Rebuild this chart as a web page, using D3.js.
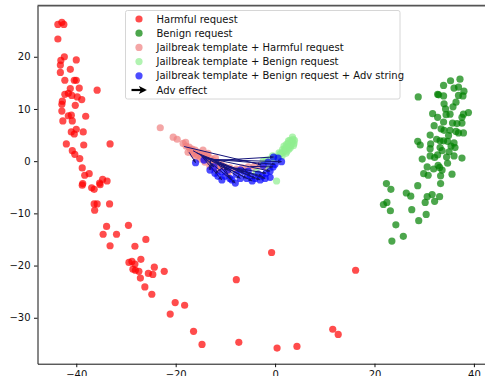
<!DOCTYPE html>
<html>
<head>
<meta charset="utf-8">
<script src="https://cdn.jsdelivr.net/npm/d3@7"></script>
<style>
  body { margin: 0; background: #fff; }
  svg { display: block; font-family: 'DejaVu Sans', sans-serif; }
</style>
</head>
<body>
<svg id="chart" width="485" height="376"></svg>
<script>
// t-SNE style projection, [x, y] pairs
const harmful = [
  [-43.7,26.2],[-42.9,26.6],[-42.5,26.2],[-43.7,23.4],[-42.4,20.0],[-43.1,19.3],[-43.2,18.4],[-43.2,17.0],
  [-41.2,17.6],[-40.0,19.4],[-42.3,15.5],[-40.4,15.5],[-40.0,15.5],[-39.4,14.0],[-35.8,13.6],[-41.2,13.9],
  [-41.6,13.0],[-42.3,12.8],[-40.9,12.6],[-39.8,12.3],[-38.9,11.8],[-40.2,10.7],[-42.8,11.5],[-42.9,10.9],
  [-42.9,9.6],[-42.7,7.7],[-41.0,8.8],[-41.6,8.7],[-40.8,7.7],[-38.1,8.6],[-40.0,6.1],[-41.0,5.6],
  [-40.4,5.2],[-38.6,5.6],[-42.0,3.3],[-38.5,3.1],[-33.2,3.3],[-40.8,2.0],[-40.3,1.3],[-39.3,0.5],
  [-38.8,-1.3],[-38.3,-2.7],[-37.4,-2.4],[-38.8,-4.6],[-38.7,-4.3],[-36.9,-5.1],[-36.4,-5.4],[-35.3,-4.2],
  [-35.2,-4.5],[-34.7,-3.5],[-33.8,-3.8],[-36.4,-8.2],[-35.8,-8.2],[-33.3,-8.2],[-36.3,-9.4],[-33.9,-12.5],
  [-29.5,-12.3],[-34.6,-14.0],[-31.9,-14.0],[-33.2,-16.2],[-28.2,-16.3],[-26.0,-15.0],[-29.4,-19.4],[-28.8,-19.2],
  [-28.2,-19.7],[-28.6,-20.7],[-28.1,-20.9],[-27.4,-21.1],[-27.0,-18.8],[-24.3,-20.3],[-25.5,-21.5],[-24.6,-21.7],
  [-27.1,-22.4],[-26.2,-24.1],[-24.8,-25.5],[-22.3,-21.1],[-20.1,-27.1],[-21.1,-29.3],[-18.2,-27.6],[-16.4,-32.6],
  [-14.7,-35.1],[-7.8,-22.7],[-7.3,-34.7],[-0.7,-17.5],[0.4,-35.8],[4.4,-35.5],[11.6,-32.2],[12.7,-33.2],
  [16.2,-20.9]
]

const benign = [
  [35.3,15.4],[37.2,15.7],[33.9,14.5],[36.0,14.0],[36.9,14.2],[38.0,13.4],[32.7,12.8],[32.9,12.7],
  [33.9,12.5],[36.9,12.6],[37.8,12.5],[36.4,11.3],[28.8,12.3],[34.3,10.0],[31.7,9.1],[32.7,8.4],
  [35.2,9.0],[34.4,8.9],[38.9,9.3],[37.9,9.0],[37.6,8.4],[33.9,7.5],[35.7,7.3],[36.6,7.2],
  [37.6,7.3],[33.4,6.2],[34.0,5.9],[35.2,5.9],[36.4,5.7],[36.9,5.4],[37.9,5.4],[34.9,4.9],
  [31.2,5.0],[28.7,3.8],[29.2,3.1],[31.3,3.3],[32.5,4.2],[33.2,3.9],[33.9,3.9],[34.7,3.8],
  [36.0,3.5],[35.4,2.9],[33.2,2.6],[31.2,2.4],[33.6,2.0],[36.2,2.6],[32.7,1.2],[32.1,0.7],
  [31.2,1.0],[34.5,0.8],[36.0,1.0],[37.6,0.6],[29.6,0.4],[34.7,-0.4],[30.6,-1.1],[32.8,-0.8],
  [33.1,-1.2],[31.9,-1.5],[33.6,-1.7],[35.6,-2.5],[29.9,-2.4],[30.8,-2.7],[33.3,-2.8],[33.3,-4.3],
  [28.7,-4.7],[22.4,-4.3],[23.3,-5.4],[26.4,-6.1],[27.3,-6.7],[30.6,-6.8],[31.6,-6.4],[33.1,-6.8],
  [30.2,-7.9],[32.1,-7.7],[22.5,-7.9],[21.8,-8.3],[23.2,-9.5],[27.5,-9.3],[30.4,-10.2],[28.9,-11.4],
  [24.3,-12.2],[25.8,-14.4],[23.5,-15.3],[34.0,11.0],[35.8,10.4],[32.0,6.8],[35.0,1.8]
]

const jbHarmful = [
  [-23.1,6.4],[-19.7,4.2],[-18.5,3.4],[-17.9,2.9],[-17.3,2.7],[-16.7,2.3],[-16.1,2.1],[-15.5,1.7],
  [-14.9,1.5],[-14.3,1.1],[-13.7,1.0],[-13.1,0.6],[-12.5,0.2],[-11.9,-0.2],[-11.3,-0.4],[-10.7,-0.8],
  [-15.9,1.0],[-15.1,0.4],[-14.1,-0.2],[-13.1,-1.0],[-12.3,-1.3],[-10.1,-1.1],[-9.1,-1.3],[-7.8,-1.5],
  [-6.6,-1.3],[-5.4,-1.1],[-4.2,-1.0],[-3.0,-0.8],[-1.8,-1.1],[-14.5,2.1],[-13.5,1.5],[-17.5,1.7],
  [-11.5,-1.7],[-9.5,-2.3],[-16.5,1.4],[-12.0,0.6],[-17.0,2.2],[-16.3,1.6],[-15.6,1.2],[-14.8,0.8],
  [-13.8,0.3],[-12.8,-0.5],[-11.0,-1.0],[-18.0,3.6],[-20.5,4.6]
]

const jbBenign = [
  [3.0,4.0],[3.4,3.6],[2.6,3.4],[3.2,3.1],[2.4,2.7],[2.8,2.3],[2.0,2.1],[1.6,1.7],
  [2.2,1.5],[1.0,1.3],[1.4,1.0],[0.4,0.8],[-0.2,0.6],[-1.0,0.4],[-1.8,0.2],[-2.4,0.0],
  [3.6,4.2],[3.8,3.4],[1.8,2.9],[0.3,-3.8],[-1.2,-1.3],[-3.8,-2.1],[3.3,3.8],[2.9,2.9],
  [2.0,2.5],[1.2,1.5],[0.2,0.2],[3.5,4.6],[3.9,4.0],[2.7,3.9],[3.1,2.6],[2.4,1.9],
  [1.5,2.2],[0.8,1.6],[-0.5,1.0],[3.7,3.0],[2.3,3.2]
]

const adv = [
  [-16.0,-0.3],[-14.3,0.2],[-13.1,-1.7],[-12.1,-2.3],[-11.5,-2.9],[-10.7,-3.6],[-10.1,-2.9],[-9.1,-3.3],
  [-8.0,-4.2],[-7.0,-3.3],[-5.7,-3.3],[-5.0,-2.9],[-4.0,-3.3],[-3.4,-2.5],[-2.6,-2.9],[-1.8,-2.3],
  [-1.0,-1.9],[-0.4,-1.1],[0.0,-0.6],[-0.3,0.8],[0.6,0.6],[1.3,-0.1],[-1.4,-0.2],[-2.4,-0.8],
  [-6.2,-2.1],[-7.8,-2.5],[-9.5,-1.7],[-10.7,-2.1],[-8.7,-3.6],[-4.6,-3.8],[-3.0,-3.6],[-12.3,-1.1],
  [-2.0,-3.3],[-1.0,-3.1],[-5.4,-1.9],[-7.0,-1.7]
]

// adv effect arrows: [x0, y0, x1, y1]
const arrows = [
  [-18.3,2.8,-2.8,-0.7],[-17.3,1.7,-16.0,-0.3],[-15.0,1.2,-10.7,-3.6],[-14.6,1.0,-8.0,-4.2],
  [-14.3,0.9,-5.7,-3.3],[-14.0,0.8,-3.0,-3.6],[-13.6,0.6,-1.0,-1.9],[-13.2,0.4,0.0,-0.6],
  [-12.8,0.3,1.3,-0.1],[-12.4,0.1,-0.3,0.8],[-12.0,-0.1,-4.0,-3.3],[-11.5,-0.3,-7.0,-3.3],
  [-11.0,-0.5,-2.0,-3.3],[-10.5,-0.7,-9.1,-3.3],[-10.0,-0.9,-12.1,-2.3],[-13.0,0.2,-13.1,-1.7],
  [-9.0,-1.1,-2.6,-2.9],[-8.0,-1.3,-1.8,-2.3],[-6.5,-1.2,-5.0,-2.9],[-5.0,-1.0,-0.4,-1.1],
  [-15.8,1.6,-6.2,-2.1],[-16.5,2.0,-9.5,-1.7],[-12.2,0.0,-4.6,-3.8],[-11.8,-0.2,-8.7,-3.6],
  [-14.8,1.1,-12.3,-1.1]
]

const legendLabels = [
  'Harmful request',
  'Benign request',
  'Jailbreak template + Harmful request',
  'Jailbreak template + Benign request',
  'Jailbreak template + Benign request + Adv string',
  'Adv effect'
]
const seriesColors = ['#ff0000', '#008000', '#f08080', '#90ee90', '#0000ff']

const xTicks = [-40, -20, 0, 20, 40]
const yTicks = [-30, -20, -10, 0, 10, 20]

const svg = d3.select('#chart')

const x = d3.scaleLinear().domain([-47.8, 43.2]).range([37.5, 489.8])
const y = d3.scaleLinear().domain([-38.8, 29.8]).range([363.7, 5.6])

const fmt = (d) => (d < 0 ? '\u2212' + Math.abs(d) : '' + d)

// arrow markers
const defs = svg.append('defs')
defs.append('marker')
  .attr('id', 'head')
  .attr('viewBox', '0 0 10 10')
  .attr('refX', 9)
  .attr('refY', 5)
  .attr('markerWidth', 4)
  .attr('markerHeight', 4)
  .attr('orient', 'auto')
  .append('path')
  .attr('d', 'M0,1L10,5L0,9z')
  .attr('fill', '#14147a')

defs.append('marker')
  .attr('id', 'headLegend')
  .attr('viewBox', '0 0 10 10')
  .attr('refX', 7)
  .attr('refY', 5)
  .attr('markerWidth', 3.6)
  .attr('markerHeight', 3.6)
  .attr('orient', 'auto')
  .append('path')
  .attr('d', 'M0,0L10,5L0,10L2.5,5z')
  .attr('fill', '#000')

const plot = svg.append('g')

const drawSeries = (data, color) => {
  plot.append('g')
    .selectAll('circle')
    .data(data)
    .join('circle')
    .attr('cx', (d) => x(d[0]))
    .attr('cy', (d) => y(d[1]))
    .attr('r', 3.6)
    .attr('fill', color)
    .attr('fill-opacity', 0.7)
}

drawSeries(harmful, seriesColors[0])
drawSeries(benign, seriesColors[1])
drawSeries(jbHarmful, seriesColors[2])
drawSeries(jbBenign, seriesColors[3])
drawSeries(adv, seriesColors[4])

plot.append('g')
  .selectAll('line')
  .data(arrows)
  .join('line')
  .attr('x1', (d) => x(d[0]))
  .attr('y1', (d) => y(d[1]))
  .attr('x2', (d) => x(d[2]))
  .attr('y2', (d) => y(d[3]))
  .attr('stroke', '#14147a')
  .attr('stroke-width', 1)
  .attr('marker-end', 'url(#head)')

// axes
svg.append('g')
  .attr('transform', `translate(${x.range()[0]},0)`)
  .call(d3.axisLeft(y).tickValues(yTicks).tickFormat(fmt).tickSize(3.5).tickPadding(3.5).tickSizeOuter(0))

svg.append('g')
  .attr('transform', `translate(0,${y.range()[0]})`)
  .call(d3.axisBottom(x).tickValues(xTicks).tickFormat(fmt).tickSize(3.5).tickPadding(3.5).tickSizeOuter(0))

svg.selectAll('.tick text').attr('font-size', 10).attr('font-family', 'DejaVu Sans, sans-serif').attr('fill', '#111')
svg.selectAll('.tick line, .domain').attr('stroke', '#111')

// top spine
svg.append('line')
  .attr('x1', x.range()[0])
  .attr('x2', 485)
  .attr('y1', y.range()[1])
  .attr('y2', y.range()[1])
  .attr('stroke', '#555')
  .attr('stroke-width', 1.6)

// legend
const legend = svg.append('g').attr('transform', 'translate(125.5,10.5)')

legend.append('rect')
  .attr('width', 274.5)
  .attr('height', 88.5)
  .attr('rx', 2)
  .attr('fill', '#fff')
  .attr('fill-opacity', 0.8)
  .attr('stroke', '#d6d6d6')
  .attr('stroke-width', 1)

const rows = legend.selectAll('g.row')
  .data(legendLabels)
  .join('g')
  .attr('class', 'row')
  .attr('transform', (d, i) => `translate(0,${8.5 + i * 14.2})`)

rows.filter((d, i) => i < 5)
  .append('circle')
  .attr('cx', 13.5)
  .attr('cy', 0)
  .attr('r', 3.6)
  .attr('fill', (d, i) => seriesColors[i])
  .attr('fill-opacity', 0.7)

rows.filter((d, i) => i === 5)
  .append('line')
  .attr('x1', 6)
  .attr('x2', 19)
  .attr('y1', 0)
  .attr('y2', 0)
  .attr('stroke', '#000')
  .attr('stroke-width', 2.2)
  .attr('marker-end', 'url(#headLegend)')

rows.append('text')
  .attr('x', 31)
  .attr('y', 0)
  .attr('dy', '0.35em')
  .attr('font-size', 10)
  .attr('fill', '#111')
  .text((d) => d)
</script>
</body>
</html>
